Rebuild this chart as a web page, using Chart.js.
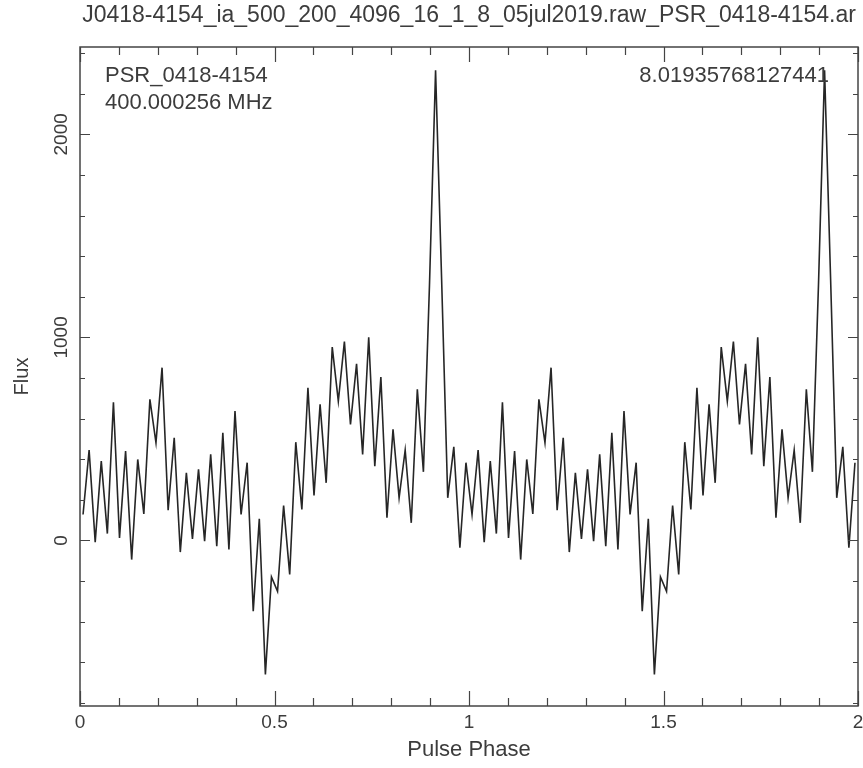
<!DOCTYPE html>
<html>
<head>
<meta charset="utf-8">
<script src="https://cdn.jsdelivr.net/npm/chart.js@4.4.1/dist/chart.umd.min.js"></script>
<style>
    html, body { margin: 0; padding: 0; background: #fff; }
    #wrap { width: 863px; height: 768px; }
</style>
</head>
<body>
<div id="wrap"><canvas id="profileChart" width="863" height="768"></canvas></div>
<script>
// Folded profile, 64 bins per turn (plotted twice, like psrplot does)
const fluxBins = [
    128, 445, -8, 391, 34, 681, 13, 440, -94, 399, 131, 695, 481, 851, 149, 506,
    -57, 333, 8, 350, -3, 424, -28, 530, -44, 637, 128, 383, -348, 107, -660, -179,
    -250, 172, -167, 484, 153, 752, 222, 670, 284, 952, 686, 979, 571, 870, 424, 1001,
    366, 805, 112, 547, 210, 445, 87, 744, 338, 1260, 2315, 1280, 210, 461, -36, 383
];
const turns = 2;
const xLabelTicks = [0, 0.5, 1, 1.5, 2];
const xTickText = ['0', '0.5', '1', '1.5', '2'];
const yLabelTicks = [0, 1000, 2000];
const yTickText = ['0', '1000', '2000'];

const titleText = 'J0418-4154_ia_500_200_4096_16_1_8_05jul2019.raw_PSR_0418-4154.ar';
const psrName = 'PSR_0418-4154';
const freqText = '400.000256 MHz';
const periodText = '8.01935768127441';

const FONT = "'Liberation Sans', Arial, sans-serif";
const TEXT_COLOR = '#3c3c3c';

// build the phase/flux pairs
const points = [];
for (let t = 0; t < turns; t++) {
    fluxBins.forEach((f, i) => {
        points.push({ x: t + (i + 0.5) / fluxBins.length, y: f });
    });
}

// frame with inward ticks and the text annotations
const pgplotFrame = {
    id: 'pgplotFrame',
    afterDraw(chart) {
        const { ctx, chartArea: a, scales: { x, y } } = chart;
        ctx.save();
        ctx.strokeStyle = '#444';
        ctx.lineWidth = 1.2;
        ctx.beginPath();
        // x ticks every 0.1, major every 0.5
        for (let k = 0; k <= 20; k++) {
            const px = Math.round(x.getPixelForValue(k / 10)) + 0.5;
            const len = (k % 5 === 0) ? 15 : 8;
            ctx.moveTo(px, a.bottom); ctx.lineTo(px, a.bottom - len);
            ctx.moveTo(px, a.top); ctx.lineTo(px, a.top + len);
        }
        // y ticks every 200, major every 1000
        for (let v = -800; v <= 2400; v += 200) {
            const py = Math.round(y.getPixelForValue(v)) + 0.5;
            const len = (v % 1000 === 0) ? 10 : 5;
            ctx.moveTo(a.left, py); ctx.lineTo(a.left + len, py);
            ctx.moveTo(a.right, py); ctx.lineTo(a.right - len, py);
        }
        ctx.stroke();
        ctx.lineWidth = 1.5;
        ctx.strokeRect(a.left, a.top, a.right - a.left, a.bottom - a.top);

        ctx.fillStyle = TEXT_COLOR;
        ctx.textBaseline = 'middle';
        ctx.font = '23px ' + FONT;
        ctx.textAlign = 'center';
        ctx.fillText(titleText, (a.left + a.right) / 2, 16);
        ctx.font = '22px ' + FONT;
        ctx.textAlign = 'left';
        ctx.fillText(psrName, 105, 76);
        ctx.fillText(freqText, 105, 103);
        ctx.textAlign = 'right';
        ctx.fillText(periodText, 829, 76);
        ctx.restore();
    }
};

const canvas = document.getElementById('profileChart');
new Chart(canvas.getContext('2d'), {
    type: 'line',
    data: {
        datasets: [{
            data: points,
            borderColor: '#262626',
            borderWidth: 1.6,
            pointRadius: 0,
            tension: 0,
            fill: false
        }]
    },
    options: {
        responsive: false,
        animation: false,
        devicePixelRatio: 1,
        layout: { padding: { top: 47, right: 5, bottom: 0, left: 0 } },
        plugins: {
            legend: { display: false },
            tooltip: { enabled: false }
        },
        scales: {
            x: {
                type: 'linear',
                min: 0,
                max: 2,
                grid: { display: false, drawTicks: false },
                border: { display: false },
                afterBuildTicks(s) { s.ticks = xLabelTicks.map(v => ({ value: v })); },
                afterFit(s) {
                    s.height = 62;
                    s.paddingRight = 0;
                    s.paddingLeft = 0;
                },
                ticks: {
                    autoSkip: false,
                    maxRotation: 0,
                    padding: 5,
                    color: TEXT_COLOR,
                    font: { family: FONT, size: 19 },
                    callback: (v, i) => xTickText[i]
                },
                title: {
                    display: true,
                    text: 'Pulse Phase',
                    color: TEXT_COLOR,
                    font: { family: FONT, size: 22 },
                    padding: { top: 0, bottom: 5 }
                }
            },
            y: {
                type: 'linear',
                min: -815,
                max: 2430,
                grid: { display: false, drawTicks: false },
                border: { display: false },
                afterBuildTicks(s) { s.ticks = yLabelTicks.map(v => ({ value: v })); },
                afterFit(s) { s.width = 80; },
                ticks: {
                    autoSkip: false,
                    minRotation: 90,
                    maxRotation: 90,
                    crossAlign: 'center',
                    padding: -3,
                    color: TEXT_COLOR,
                    font: { family: FONT, size: 19 },
                    callback: (v, i) => yTickText[i]
                },
                title: {
                    display: true,
                    text: 'Flux',
                    color: TEXT_COLOR,
                    font: { family: FONT, size: 20 },
                    padding: { top: 10, bottom: 0 }
                }
            }
        }
    },
    plugins: [pgplotFrame]
});
</script>
</body>
</html>
